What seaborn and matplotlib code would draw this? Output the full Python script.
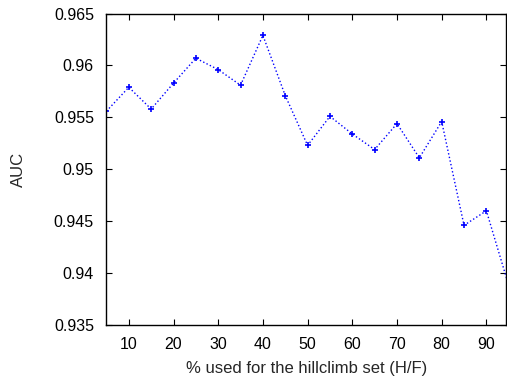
import matplotlib
matplotlib.use("Agg")
import matplotlib.pyplot as plt
import pandas as pd
import seaborn as sns

# values
pct = [5, 10, 15, 20, 25, 30, 35, 40, 45, 50, 55, 60, 65, 70, 75, 80, 85, 90, 95]
auc = [0.9556, 0.9579, 0.9558, 0.9583, 0.9607, 0.9596, 0.9581, 0.9629, 0.9571, 0.9523,
       0.9551, 0.9534, 0.9519, 0.9544, 0.9511, 0.9546, 0.9446, 0.9460, 0.9388]
xticks = [10, 20, 30, 40, 50, 60, 70, 80, 90]
yticks = [0.935, 0.94, 0.945, 0.95, 0.955, 0.96, 0.965]
ytick_labels = ["0.935", "0.94", "0.945", "0.95", "0.955", "0.96", "0.965"]

df = pd.DataFrame({"pct": pct, "auc": auc})

sns.set_theme(style="ticks")
plt.rcParams["font.family"] = ["Liberation Sans", "DejaVu Sans"]

fig = plt.figure(figsize=(5.07, 3.77), dpi=100)
ax = fig.add_axes([0.21, 0.138, 0.789, 0.826])

sns.lineplot(data=df, x="pct", y="auc", ax=ax, color="#0000ff", linestyle=":",
             linewidth=1.0, marker="+", markersize=5, markeredgewidth=1.2,
             markeredgecolor="#0000ff", markerfacecolor="#0000ff")

ax.set_xlim(5, 94.5)
ax.set_ylim(0.935, 0.965)
ax.set_xticks(xticks)
ax.set_xticklabels([str(t) for t in xticks])
ax.set_yticks(yticks)
ax.set_yticklabels(ytick_labels)
ax.tick_params(direction="in", length=4, width=0.8, top=True, right=True,
               labelsize=11.5, colors="black")
ax.tick_params(axis="x", pad=9)
ax.tick_params(axis="y", pad=9)
for s in ax.spines.values():
    s.set_linewidth(1.0)
    s.set_color("black")

ax.set_xlabel("% used for the hillclimb set (H/F)", fontsize=12, labelpad=6)
ax.set_ylabel("AUC", fontsize=12, labelpad=20)

fig.savefig("out.png", dpi=100)
